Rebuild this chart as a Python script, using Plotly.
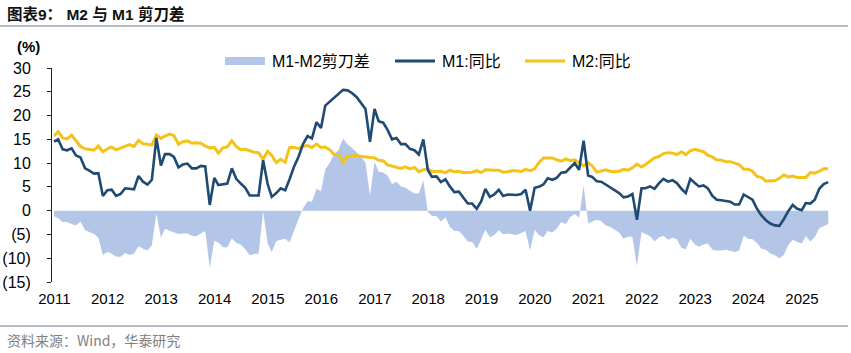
import plotly.graph_objects as go
import pandas as pd

# ---------------- data (monthly, Feb 2011 - Aug 2025, % YoY) ----------------
start_month = "2011-02-01"

m1_yoy = [
    # 2011 (Feb-Dec)
    14.5, 15.0, 12.9, 12.7, 13.1, 11.6, 11.2, 8.9, 8.4, 7.8, 7.9,
    # 2012
    3.1, 4.3, 4.4, 3.1, 3.5, 4.7, 4.6, 4.5, 7.3, 6.1, 5.5, 6.5,
    # 2013
    15.3, 9.5, 11.9, 11.9, 11.3, 9.1, 9.7, 9.9, 8.9, 8.9, 9.4, 9.3,
    # 2014
    1.2, 6.9, 5.4, 5.5, 5.7, 8.9, 6.7, 5.7, 4.8, 3.2, 3.2, 3.2,
    # 2015
    10.6, 5.6, 2.9, 3.7, 4.7, 4.3, 6.6, 9.3, 11.4, 14.0, 15.7, 15.2,
    # 2016
    18.6, 17.4, 22.1, 22.9, 23.7, 24.6, 25.4, 25.3, 24.7, 23.9, 22.7, 21.4,
    # 2017
    14.5, 21.4, 18.8, 18.5, 17.0, 15.0, 15.3, 14.0, 14.0, 13.0, 12.7, 11.8,
    # 2018
    15.0, 8.5, 7.1, 7.2, 6.0, 6.6, 5.1, 3.9, 4.0, 2.7, 1.5, 1.5,
    # 2019
    0.4, 2.0, 4.6, 2.9, 3.4, 4.4, 3.1, 3.4, 3.4, 3.3, 3.5, 4.4,
    # 2020
    0.0, 4.8, 5.0, 5.5, 6.8, 6.5, 6.9, 8.0, 8.1, 9.1, 10.0, 8.6,
    # 2021
    14.7, 7.4, 7.1, 6.2, 6.1, 5.5, 4.9, 4.2, 3.7, 2.8, 3.0, 3.5,
    # 2022
    -1.9, 4.7, 4.7, 5.1, 4.6, 5.8, 6.7, 6.1, 6.4, 5.8, 4.6, 3.7,
    # 2023
    6.7, 5.8, 5.1, 5.3, 4.7, 3.1, 2.3, 2.2, 2.1, 1.9, 1.3, 1.3,
    # 2024
    3.4, 2.8, 2.3, 0.4, -1.0, -2.0, -2.7, -3.1, -3.2, -1.8, -0.1, 1.2,
    # 2025 (Jan-Aug)
    0.4, 0.1, 1.6, 1.5, 2.3, 4.6, 5.6, 6.0,
]

m2_yoy = [
    # 2011 (Feb-Dec)
    15.7, 16.6, 15.3, 15.1, 15.9, 14.7, 13.5, 13.0, 12.9, 12.7, 13.6,
    # 2012
    12.4, 13.0, 13.4, 12.8, 13.2, 13.6, 13.9, 13.5, 14.8, 14.1, 13.9, 13.8,
    # 2013
    15.9, 15.2, 15.7, 16.1, 15.8, 14.0, 14.5, 14.7, 14.2, 14.3, 14.2, 13.6,
    # 2014
    13.2, 13.3, 12.1, 13.2, 13.4, 14.7, 13.5, 12.8, 12.9, 12.6, 12.3, 12.2,
    # 2015
    10.8, 12.5, 11.6, 10.1, 10.8, 10.2, 13.3, 13.3, 13.1, 13.5, 13.7, 13.3,
    # 2016
    14.0, 13.3, 13.4, 12.8, 11.8, 11.8, 10.2, 11.4, 11.5, 11.6, 11.4, 11.3,
    # 2017
    11.3, 11.1, 10.6, 10.5, 9.6, 9.4, 9.2, 8.9, 9.2, 8.8, 9.1, 8.2,
    # 2018
    8.6, 8.8, 8.2, 8.3, 8.3, 8.0, 8.5, 8.2, 8.3, 8.0, 8.0, 8.1,
    # 2019
    8.4, 8.0, 8.6, 8.5, 8.5, 8.5, 8.1, 8.2, 8.4, 8.4, 8.2, 8.7,
    # 2020
    8.4, 8.8, 10.1, 11.1, 11.1, 11.1, 10.7, 10.4, 10.9, 10.5, 10.7, 10.1,
    # 2021
    9.4, 10.1, 9.4, 8.1, 8.3, 8.6, 8.3, 8.2, 8.3, 8.7, 8.5, 9.0,
    # 2022
    9.8, 9.2, 9.7, 10.5, 11.1, 11.4, 12.0, 12.2, 12.1, 11.8, 12.4, 11.8,
    # 2023
    12.6, 12.9, 12.7, 12.4, 11.6, 11.3, 10.7, 10.6, 10.3, 10.3, 10.0, 9.7,
    # 2024
    8.7, 8.7, 8.3, 7.2, 7.0, 6.2, 6.3, 6.3, 6.8, 7.5, 7.1, 7.3,
    # 2025 (Jan-Aug)
    7.0, 7.0, 7.0, 8.0, 7.9, 8.3, 8.8, 8.8,
]

years = list(range(2011, 2026))
year_labels = [str(y) for y in years]
y_ticks = [-15, -10, -5, 0, 5, 10, 15, 20, 25, 30]
y_tick_labels = ["(15)", "(10)", "(5)", "0", "5", "10", "15", "20", "25", "30"]

names = ["M1-M2剪刀差", "M1:同比", "M2:同比"]
title_text = "<b>图表9： M2 与 M1 剪刀差</b>"
source_text = "资料来源：Wind，华泰研究"

# ---------------- derived ----------------
dates = pd.date_range(start_month, periods=len(m1_yoy), freq="MS")
spread = [round(a - b, 2) for a, b in zip(m1_yoy, m2_yoy)]

W, H = 851, 353
ML, MR, MT, MB = 52, 19, 68, 71
PW, PH = W - ML - MR, H - MT - MB


def px_x(px):
    return (px - ML) / PW


def px_y(py):
    return 1 - (py - MT) / PH


FONT = "Liberation Sans, Arial, Noto Sans CJK SC, sans-serif"
NAVY = "#1F4A72"
GOLD = "#F3C31A"
AREA = "#B4C6E7"

fig = go.Figure()
fig.add_trace(go.Scatter(
    x=dates, y=spread, name=names[0], mode="lines",
    line=dict(width=0, color=AREA), fill="tozeroy", fillcolor=AREA,
    hoverinfo="skip"))
fig.add_trace(go.Scatter(
    x=dates, y=m2_yoy, name=names[2], mode="lines",
    line=dict(width=3, color=GOLD)))
fig.add_trace(go.Scatter(
    x=dates, y=m1_yoy, name=names[1], mode="lines",
    line=dict(width=2.6, color=NAVY)))

x_range = ["2011-01-18", "2025-08-27"]
tick_dates = [f"{y}-01-18" for y in years]
label_dates = [f"{y}-02-03" for y in years]

fig.update_layout(
    width=W, height=H,
    margin=dict(l=ML, r=MR, t=MT, b=MB, autoexpand=False),
    paper_bgcolor="white", plot_bgcolor="white",
    font=dict(family=FONT, size=15, color="#000000"),
    showlegend=False,
    xaxis=dict(
        type="date", range=x_range, showgrid=False, zeroline=False,
        showline=False, tickmode="array", tickvals=label_dates,
        ticktext=year_labels, ticks="outside", ticklen=3,
        tickcolor="rgba(0,0,0,0)", tickfont=dict(size=15, family=FONT),
        automargin=False,
    ),
    xaxis2=dict(
        type="date", matches="x", overlaying="x", anchor="free",
        position=(0 - y_ticks[0]) / (y_ticks[-1] - y_ticks[0]),
        side="bottom", showgrid=False, zeroline=False,
        showline=True, linecolor="#7F7F7F", linewidth=1.5,
        tickmode="array", tickvals=tick_dates, ticks="outside",
        ticklen=4, tickwidth=1, tickcolor="#222222", showticklabels=False,
        layer="above traces", automargin=False,
    ),
    yaxis=dict(
        range=[y_ticks[0], y_ticks[-1]], tickmode="array", tickvals=y_ticks,
        ticktext=y_tick_labels, showgrid=False, zeroline=False,
        showline=True, linecolor="#222222", linewidth=1,
        ticks="outside", ticklen=4, tickcolor="#222222",
        ticklabelstandoff=13, tickfont=dict(size=16, family=FONT),
        automargin=False,
    ),
)

# legend (drawn as keys + real text labels)
legend_y = 61
legend_items = [
    (225, "patch", AREA, names[0]),
    (395, "line", NAVY, names[1]),
    (525, "line", GOLD, names[2]),
]
for x0, kind, color, label in legend_items:
    if kind == "patch":
        fig.add_shape(type="rect", xref="paper", yref="paper",
                      x0=px_x(x0), x1=px_x(x0 + 40),
                      y0=px_y(legend_y - 4), y1=px_y(legend_y + 4),
                      fillcolor=color, line=dict(width=0))
    else:
        fig.add_shape(type="line", xref="paper", yref="paper",
                      x0=px_x(x0), x1=px_x(x0 + 40),
                      y0=px_y(legend_y), y1=px_y(legend_y),
                      line=dict(color=color, width=3))
    fig.add_annotation(text=label, xref="paper", yref="paper",
                       x=px_x(x0 + 45), y=px_y(legend_y), xanchor="left",
                       yanchor="middle", showarrow=False,
                       font=dict(size=16, family=FONT, color="#000000"))

# header / footer rules
for py in (26, 326):
    fig.add_shape(type="line", xref="paper", yref="paper",
                  x0=px_x(0), x1=px_x(848), y0=px_y(py), y1=px_y(py),
                  line=dict(color="#9AA6B4", width=1.5))

fig.add_annotation(text=title_text, xref="paper", yref="paper",
                   x=px_x(5), y=px_y(14), xanchor="left", yanchor="middle",
                   showarrow=False,
                   font=dict(size=15.5, family="Liberation Sans, Noto Sans CJK SC", color="#111111"))
fig.add_annotation(text="<b>(%)</b>", xref="paper", yref="paper",
                   x=px_x(28), y=px_y(47), xanchor="center", yanchor="middle",
                   showarrow=False, font=dict(size=15, family=FONT, color="#000000"))
fig.add_annotation(text=source_text, xref="paper", yref="paper",
                   x=px_x(5), y=px_y(340), xanchor="left", yanchor="middle",
                   showarrow=False,
                   font=dict(size=14, family="Noto Sans CJK SC, Liberation Sans", color="#808080"))

fig.write_html("out.html")
